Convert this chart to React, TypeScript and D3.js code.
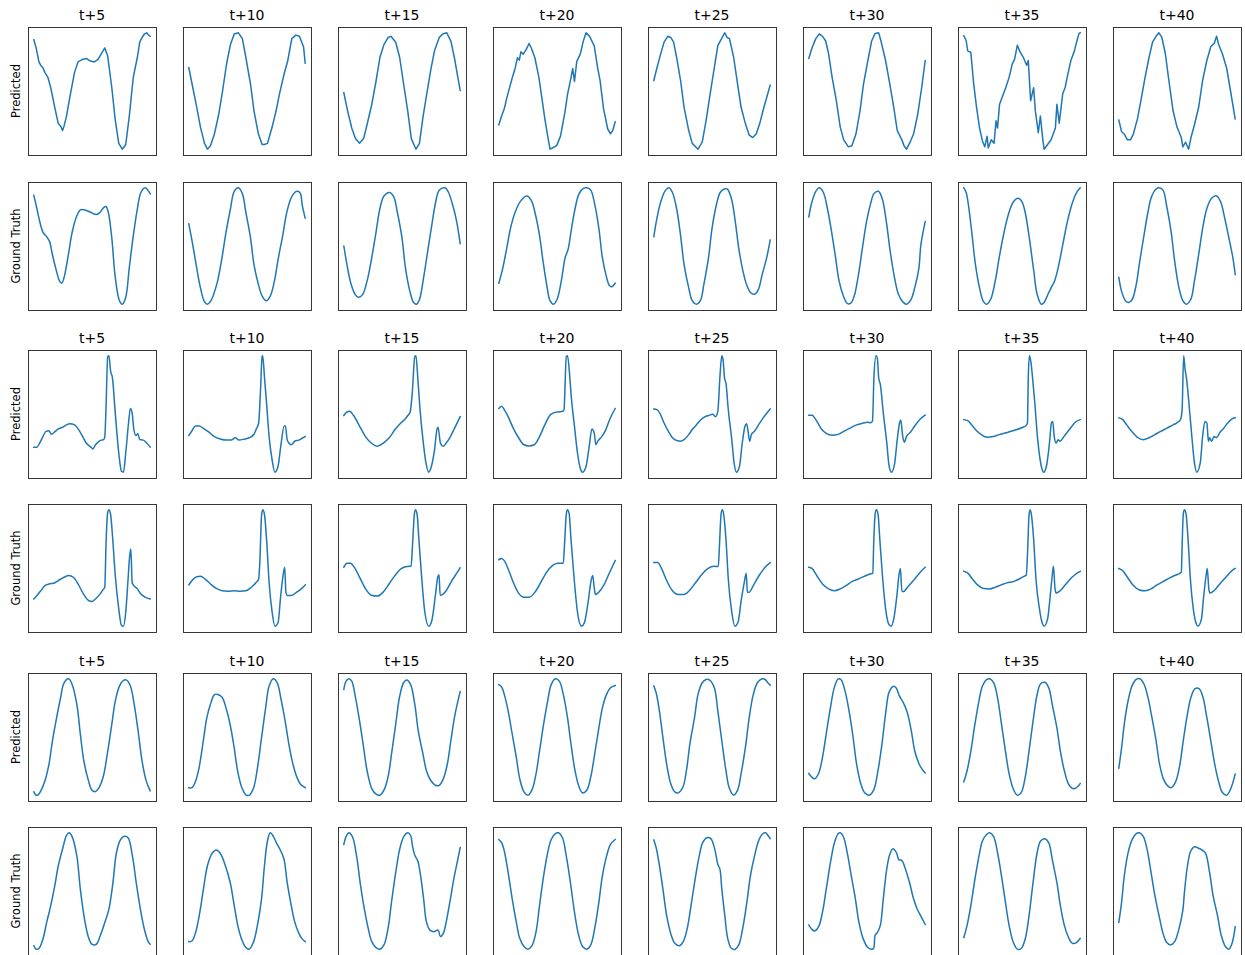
import React, { useEffect, useRef } from 'react';
import * as d3 from 'd3';

// forecast horizons (column titles) and row labels
const horizons = ['t+5', 't+10', 't+15', 't+20', 't+25', 't+30', 't+35', 't+40'];
const rowLabels = ['Predicted', 'Ground Truth'];

// every series is a flat list of (time step, value) pairs
const sinePred = [
  [0,94, 2,87, 4.4,75, 6,72, 7.8,70, 9.5,66, 12,62, 14.5,53, 18,36, 21,22, 23,20, 24.7,16, 26,20, 28,28, 31,45, 35,66, 38,75, 41.5,77, 45,78, 48,76, 52,75, 55,77, 58,82, 61,87, 63.5,80, 67,53, 70,25, 73,5, 76,0, 79,4, 82,28, 85.5,62, 89,79, 91,92, 93,96, 95,99, 97,100, 98.6,98, 100,97],
  [0,70, 3.4,53, 6.8,36, 10,19, 13.5,5, 16,0, 18.6,3, 22,13, 25.7,30, 29,50, 32.4,73, 35.8,90, 39,99, 42.6,100, 46,95, 49,79, 53,56, 56,33, 59.8,13, 63,4, 65,4, 67.6,5, 71.6,19, 75,33, 78,48, 82,65, 85,76, 88.5,95, 92,98, 95,97, 98.6,88, 100,74],
  [0,49, 3.4,33, 6.8,19, 10,10, 13.5,6, 17,10, 20,22, 24,39, 27.7,59, 31,79, 34.5,90, 38,96, 40.5,97, 44.6,92, 48,79, 51,59, 55,33, 58,10, 62,1, 65,6, 68,28, 71.6,50, 75,70, 78,85, 82,96, 85,99, 88.5,100, 92,93, 95,79, 98,62, 100,51],
  [0,22.5, 2.4,30, 4.7,36, 6.8,45, 9,53, 11.5,62, 14,70, 16,79, 17.6,77, 19,84, 21,82, 23.6,86, 26,91, 28,87, 31,79, 34.5,62, 37,45, 39.5,28, 42,13, 44,2, 46,3, 49.7,5, 53,13, 56.8,33, 59,48, 62,62, 63.5,70, 65,59, 67,76, 70,82, 72.6,93, 75,100, 78,97, 82,89, 85,70, 87,60, 90,36, 93.6,19, 96,15, 98,18, 100,25],
  [0,59, 2.7,70, 5.4,80, 8.8,92, 12,97, 14.5,96, 17,92, 19.6,79, 23,59, 26,36, 30,16, 33,5, 38,0, 41.6,6, 45,25, 48,45, 52,70, 55,89, 58.8,96, 61,100, 63,96, 65,95, 68.6,79, 72,56, 75,36, 78.7,22, 82,12, 85,10, 88,13, 91,22, 94.6,36, 100,55],
  [0,78, 2.7,87, 6,95, 9,99, 11.8,97, 14.5,93, 17,82, 20,62, 23.6,42, 27,19, 30,8, 34,2, 37,3, 40.5,13, 44,33, 47,56, 50.7,76, 54,93, 57,99.5, 60,100, 62,93, 66,76, 69.6,56, 73,36, 76,16, 80,8, 81.8,3, 84,0, 87,6, 90,13, 93.6,30, 97,53, 100,76],
  [0,97, 2,93, 3.4,84, 6,83, 8.5,56, 11,36, 13.5,19, 16,8, 18,3, 20,12, 21,2, 23.6,9, 26,6, 27.7,25, 29,19, 30.7,39, 33,45, 36,53, 39,62, 41.6,73, 43.6,77, 46,89, 48,84, 51,79, 54,72, 55.4,76, 57.4,42, 60,53, 61.5,33, 64,15, 65.8,29, 68,8, 69,1, 72,5, 75,9, 78.7,19, 80,39, 82,23, 85,48, 87,53, 89.5,65, 92,76, 95,84, 97,92, 99,99, 100,99.5],
  [0,25, 2.4,15, 4.7,13, 7.4,8, 10,8, 12.5,13, 16,26, 19,42, 22.6,62, 26,79, 29,92, 32,97, 34.5,100, 37,96, 40,82, 43,59, 46.6,33, 50,19, 53.7,10, 55,2, 57.4,6, 60,0, 62,10, 65,21, 68.6,36, 72,59, 75.6,76, 79,88, 82,91, 84,97, 85.8,90, 89,82, 92.6,70, 96,50, 100,26],
];

const sineTruth = [
  [0,93.5, 2,85, 4.4,74, 7.8,62, 11,58, 13.5,54, 16,42.5, 19.6,28, 22,20, 24,18, 26,23, 29.7,42.5, 33,62, 37,76, 40,81, 44,81, 48.6,79, 54,77, 57,79, 60,83, 62,84, 64,79, 67,57, 70,23, 73.6,3, 76,0, 79,6, 82,31, 85.5,59, 89,82, 92,96, 95.6,100, 98,98, 100,95],
  [0,69, 3.4,51, 6.8,31, 10,14, 13.5,2, 16,0, 19,3, 24,17, 28,37, 32,62, 35.8,82, 39,97, 42.6,100, 46,95, 49,79, 53,57, 56,34, 59.8,17, 63,7, 66.6,3, 70,7, 73.6,20, 77,40, 80.7,59, 84,78, 87.8,91, 91,96, 93.6,97, 96,95, 97.3,86, 100,74],
  [0,50, 2.7,34, 6,18, 10,8, 12.5,6, 16,8, 20,20, 24,40, 27.7,62, 31,82, 34.5,93, 39.5,96, 43,92, 46,79, 50,57, 53,31, 56.8,11, 60,1.4, 62.5,0, 65,4, 68.6,23, 72,45, 75.6,68, 79,88, 82,98, 87,100, 90,96, 93.6,85, 97,71, 100,52],
  [0,18, 3.4,31, 6.8,48, 10,65, 14,79, 19,89, 24,93, 28,89, 31,79, 35,59, 38,37, 41.6,14, 44,3, 47,0, 50,4, 53.7,20, 57,40, 59.5,47, 62,62, 65.5,82, 69,95, 73,99.7, 75.7,100, 79,98, 82.4,86, 86,65, 89,40, 92.6,23, 95,16, 97,15, 100,18],
  [0,58, 2.7,74, 6,88, 9.5,97, 13,100, 16,96, 19.6,82, 23,59, 26,34, 30,14, 33,3, 36.5,0, 40,3, 43,17, 47,40, 50,65, 53.7,85, 57,96, 60.5,99, 63,99, 66.6,91, 70,71, 73,48, 76.7,28, 80,16, 83,10, 86.5,8.5, 90,13, 93,25, 97,40, 100,55],
  [0,75, 2.7,88, 6,97, 9,100, 12.5,96, 16,82, 19.6,62, 23,40, 26,20, 29.7,7, 33,0.6, 35.8,0.6, 39,7, 42.6,25, 46,48, 49.6,71, 53,86, 56,95, 59.8,97, 63,91, 66.6,71, 70,45, 73.6,23, 77,8.5, 80.7,2, 84,0, 87.8,4, 91,14, 94.6,31, 96.3,51, 100,71],
  [0,100, 2,96, 4,85, 6.8,62, 10,34, 13.5,14, 17,2, 19.6,0, 23,4, 27,20, 30.4,40, 34,59, 38,76, 42.6,88, 46.6,91, 50,88, 52.7,79, 56,59, 59.8,31, 63,8.5, 66.6,0, 69,1.4, 72.3,8.5, 75,14, 78,20, 81,31, 85,51, 89,71, 93.6,88, 97,96, 100,100],
  [0,23, 2.4,11, 5.7,3, 8.4,1.4, 11.5,4, 15,17, 18,37, 21.6,59, 25,79, 28,92, 32,99, 34.5,100, 38,98, 41,85, 45,62, 48,37, 51.7,14, 55,3, 58,0, 61.8,4, 65,20, 68.6,42.5, 72,65, 75.6,82, 79.7,91, 84,93, 87.5,88, 91,74, 94.6,57, 98,40, 100,25.5],
];

const ecgPred = [
  [0,22, 2.7,22, 5,25.5, 7.8,31, 10.5,35.5, 13,36, 15,33, 18,35, 21,37.5, 24.7,39, 28,41, 31,42, 35,41, 38.5,37, 42,31, 45,25.5, 49,22, 50.7,20.5, 53,24, 56,27, 58,28, 60,28.4, 61,31, 62,54, 63.5,99.4, 64.5,100, 66,87, 67.6,81, 70,51, 73,17, 75.3,1.4, 77,0.6, 79,17, 81.4,42.6, 83,55, 84.5,51, 86,37, 87.8,32, 89.5,33.5, 91,28.4, 94,28, 97,25.5, 100,22],
  [0,32, 2.7,36, 5.7,40, 9,40, 12.5,38, 17,35, 22,31, 27,29, 32,28, 36.5,28, 40,30, 43,28, 48,29, 52,30, 56,33, 58,37.5, 60,42.6, 61.5,68, 63,99.4, 63.5,100, 65,82, 67,57, 69,31, 71.6,11, 74,0.6, 76.7,5.7, 79,22.7, 82,40, 83,40, 84.5,28.4, 86,25.5, 88,24, 91,27, 94.6,28, 98,30, 100,31],
  [0,49, 2.7,52, 5,52.6, 8.4,49, 13.5,40, 18.6,31, 23.6,25.5, 28.7,22.7, 34,25.5, 39,30, 44,37, 49,42.6, 52.7,46, 55,49, 57,52, 58.8,68, 61,99.4, 62,100, 63.5,82, 65.5,54, 68,28.4, 70.6,8.5, 73,0.6, 75.3,5.7, 78,20, 80,37, 81,39, 83,25.5, 85.5,22.7, 88,25.5, 91,30, 94.6,37, 100,48],
  [0,55, 2.4,57, 4.7,54, 8,48, 12.5,38, 17,30, 21.6,24, 26,23, 30.4,24, 35,31, 39.5,41, 44.6,50, 49.7,52, 55,52.6, 56,54, 58,99.4, 59,100, 61,82, 62,68, 65,40, 67.6,17, 70,4, 72,0.6, 75,5.7, 77.7,22.7, 80,37.5, 82,34, 83.4,24, 85,27, 88.5,31, 92,37, 95,45, 100,55],
  [0,54.5, 2.7,54, 5.4,50.6, 8.8,42.6, 13,34.7, 16,30, 19.6,27.6, 23,27, 26,28.4, 30,32.7, 33,37, 36.5,41, 40,45, 43,47.4, 47,49, 50.7,50, 53,48, 55,52.6, 56.8,82, 58.4,100, 59.5,96.6, 60.8,81, 62,76.7, 64,54, 67,28.4, 69,8.5, 71,0.6, 73.6,5.7, 76,25.5, 78.4,40, 79.7,42, 81,35.5, 82.4,27, 83.8,32.7, 86.5,35.5, 90,41, 94,47, 100,54.5],
  [0,49, 2.7,49, 6.8,44, 11,37, 15,33.5, 20,32, 25.3,32.7, 30.4,35.5, 35.5,38, 40.5,40.6, 45.6,42, 50.7,43, 53,42.6, 54.7,44, 56,82, 57.8,99.4, 59,96.6, 60,81, 61.5,75, 64,51, 67,25.5, 69,5.7, 71,0.6, 73.6,7, 76,28.4, 78,42.6, 79,45, 80.7,31, 82,26, 84,31, 87.5,34.7, 91,39.8, 95.6,45.5, 100,49],
  [0,45.5, 3.4,44.6, 6.8,41, 11,36, 15,32.7, 20,30.4, 25.3,31, 30.4,32.7, 35.5,34, 40.5,35.5, 45.6,37, 50.7,39, 53,40, 54.7,42.6, 55.4,82, 56.4,100, 57.8,93.8, 59,82, 61,59.7, 63.5,28.4, 66.6,5.7, 68.6,0.6, 71,5.7, 73.6,25.5, 75.3,42.6, 76.4,44, 77.7,31, 79.4,25.5, 81,28.4, 82.8,27, 86,31, 89.5,35.5, 93,40, 96,43.5, 100,45.5],
  [0,47, 3.4,45.5, 6.8,41, 11,35.5, 16,30.4, 21,28.4, 26,30, 31,32.7, 36,35.5, 41,38, 46.6,41, 49.7,42.6, 53,45.5, 54.4,54, 55.7,100, 57,88, 58,82, 60,62.5, 62.5,34, 65,8.5, 67,0.6, 70,8.5, 72,31, 74,44, 75.7,42.6, 77,27, 78,30, 79.7,27, 81.8,31, 83.8,30, 87,34.7, 90,38, 93.6,42.6, 97,46, 100,47],
];

const ecgTruth = [
  [0,24, 2.7,27, 6,31, 9.5,35.4, 13,36.8, 17,37.4, 21,39.7, 26,42.5, 30,44, 34,42.5, 38,36.8, 42.6,28.3, 47,22.7, 50,21.8, 53,24, 57,28.3, 59.5,32, 61,34, 62,69, 63.5,97.7, 64.5,100, 66,96, 67.6,78, 70,44, 73,15.6, 75.3,1.4, 77,0.8, 79,12.7, 81,41, 82.4,61, 83.4,66.6, 84.5,38, 85.5,36, 89,32.6, 92,28.3, 95.6,25.5, 100,24],
  [0,36, 3.4,40.5, 6.8,43, 10,43.3, 14,41, 18.6,36.8, 23.6,33, 28.7,31, 33.8,30.6, 39,31, 44,30.6, 49,31, 53.7,34, 57.8,38, 60,41, 61,55, 62.5,95, 63.5,100, 65,96, 67,72, 69,38, 71.6,12.7, 74,0.8, 76.7,4, 79,27, 81,44, 82.4,51, 83.4,30, 84.5,27, 88,27, 93,30, 96.6,32.6, 100,36],
  [0,51, 2.7,54.4, 5.7,54.4, 9,51, 13.5,42.5, 18.6,32.6, 23.6,27, 28.7,26.3, 33.8,29.7, 39,36.8, 44,44, 49,49.6, 54.4,51.6, 57.8,51.8, 59,69, 60.5,95, 61.5,100, 63,96, 64.5,75, 67,41, 69.6,12.7, 73,0.6, 75.7,5.7, 78.7,27, 80.7,42.5, 81.8,44.5, 82.8,27, 84.8,27.5, 88,31, 93,39.7, 97.6,46.7, 100,50.4],
  [0,57.5, 2.4,58.6, 4.7,56.7, 8,49.6, 12.5,38, 17,29, 21.6,25.5, 26,25.5, 31,29.7, 36,38, 41,46.7, 46,52.4, 50.7,54.4, 55.4,54.4, 56.4,69.4, 58,96.3, 59,100, 60.5,96.3, 62,75, 65,38, 67.6,12.7, 71,0.8, 73.6,4, 76.7,21, 79,38, 80.7,44, 81.8,35.4, 83,27.8, 85.8,29.7, 90,35.4, 94.6,45.3, 100,56.7],
  [0,55, 3.4,55, 6.8,49.6, 11,39.7, 16,31, 21,27.8, 25.7,27.8, 30.4,31, 36,38, 41.6,45.3, 46.6,50, 51.7,51.8, 55.4,51.6, 56.4,69.4, 57.8,96.3, 58.8,100, 60,96.3, 62,75, 64,41, 67,12.7, 69.6,0.8, 72.3,4, 75.3,24, 77.7,38, 79.4,46, 80.4,29.7, 81.8,29.7, 85.5,35.4, 90.5,44, 95.6,51, 100,55],
  [0,51, 2.7,50, 6.8,44, 11.8,36.8, 17,32.6, 22,31, 27,32.6, 32,35.4, 37,38.8, 42.6,41, 47.6,43.3, 52.7,45.3, 55,45.9, 55.7,69.4, 57,96.3, 58,100, 59.5,96.3, 61,75, 63.5,41, 66,15.6, 68.6,2.8, 70.6,0.8, 73,7, 75.7,27, 77.4,44, 78.7,50, 80,30.3, 81.4,30.3, 84.8,34, 89.9,39.7, 95,46, 100,51],
  [0,47.6, 3.4,46, 7.4,41, 11.8,36, 17,33, 22,32.6, 27,34, 32,36, 37,37.7, 42.6,38.8, 47.6,41, 51.7,43.3, 53.7,44.5, 55,69.4, 56,95, 57,100, 58,96.3, 60,75, 62,41, 65,15.6, 67.6,2.8, 69,0.8, 72,7, 74.3,27, 76,44, 77,51.8, 78.4,32.6, 79.4,29, 82.8,31, 87.8,36.8, 93,42.5, 97.3,46, 100,47.6],
  [0,50, 3.4,48, 7.4,42.5, 12.5,35.4, 17.6,31.7, 22.6,31, 27.7,32.6, 32.8,36, 38,38.8, 43,41.6, 48,44, 52.4,45.9, 53.7,46.7, 54.4,69.4, 55.4,96.3, 56.4,100, 57.8,96.3, 59.5,75, 61.5,41, 64,15.6, 66.6,2.8, 68,0.8, 71,7, 73,27, 75,44, 76,50, 77.4,32, 78.4,29, 81.8,31, 86.8,36.8, 92,42.5, 97,48, 100,50],
];

const wavePred = [
  [0,3.4, 2,0.6, 3.7,0.9, 6,4.3, 9.5,12.8, 13,27, 16,47, 19.6,66.8, 23,83.8, 26,96.6, 30,100, 33,95, 37,78, 40,52.6, 43,29.8, 47,12.8, 50,4.8, 53,3.7, 56,7, 59.8,17, 63.5,38, 67,61, 70,81, 73.6,93.8, 77,98.6, 79.7,98.9, 83,93.8, 86.5,76.7, 90,52.6, 93,29.8, 96.6,12.8, 100,4.3],
  [0,7, 2.7,7, 5.4,11.4, 8.8,24, 12,44, 15.5,66.8, 19,79.5, 22,86.6, 25,86.6, 28.7,84, 32,75, 35.5,61, 39,41, 42,21, 45.6,7, 49,0.9, 52,0.6, 55.7,7, 59,24, 62.5,49.7, 66,75, 69,93.8, 72.6,100, 76,96.6, 79,83.8, 82.8,63.9, 86,44, 89.5,27, 93,15.6, 96,10, 100,7],
  [0,91, 2,98, 4.4,100, 6.8,98, 10,84, 13.5,64, 17,41, 20,21, 24,5.7, 27.7,0.9, 31,0, 34.5,4.3, 38,15.6, 41,35.5, 44.6,61, 48,85, 51.4,96.6, 54,98.9, 57.4,95, 61,78, 64,55, 68,35.5, 71,21, 74.6,12.8, 78.7,8.5, 82,8.5, 85.5,14, 89,27, 92,47, 95.6,69.6, 100,89],
  [0,95, 2.4,93, 4.7,86.6, 8,72.4, 11.5,52.6, 15,32.7, 18,14, 21.6,2.8, 25,0, 28.4,4.3, 32,18.5, 35,38, 38.5,61, 42,81, 45,95, 48.6,100, 52,98, 55.4,86.6, 59,66.8, 62,44, 65.5,21, 69,7, 72,2, 75.6,4.3, 79,15.6, 82.4,35.5, 86,58, 89,75, 92.6,86.6, 96,92.3, 100,94.3],
  [0,93.8, 2,88, 4.4,75, 7.8,49.7, 11,27, 14.5,10, 18,2.8, 21,2, 25,7, 28,21, 31,44, 35,66.8, 38,86.6, 41.6,96.6, 45,99.4, 48,98.9, 52,92.3, 55,72.4, 58.4,47, 62,21, 65,5.7, 68.6,0, 72,4.3, 75,18.5, 78.7,41, 82,66.8, 85.5,86.6, 89,96.6, 93,100, 95.6,99.4, 98,96.6, 100,94.6],
  [0,18.5, 2.4,15.6, 5,14, 8.4,18.5, 11.8,32.7, 15,52.6, 18.6,75, 22,92.3, 25.3,99.4, 27.7,98.6, 31,89.5, 34.5,72.4, 38,49.7, 41,27, 44.6,10, 48,2, 52,0, 55.7,4.3, 59,18.5, 62.5,41, 66,69.6, 69,88, 72.6,92.9, 75,91.8, 77.7,85, 81,79.5, 84.5,71, 88,55.4, 91,38, 94.6,27, 97,22.7, 100,19],
  [0,12, 2.7,21, 6,38, 9.5,61, 13,81, 16,93.8, 19.6,99.4, 22.3,100, 25.7,96.6, 29,83.8, 32.4,61, 35.8,38, 39,18.5, 42.6,5.7, 46,0.6, 49.3,2.8, 52.7,15.6, 56,38, 59.5,63.9, 63,86.6, 66,95.7, 69.6,97, 73,92.3, 76,78, 80,58, 83,38, 86.5,21, 90,10, 93,6.5, 96,6.5, 100,10.5],
  [0,23.6, 2.4,41, 4.7,61, 8,81, 11.5,93.8, 15,99, 18,99.4, 21.6,95, 25,83.8, 28.4,66.8, 32,47, 35,27, 38.5,14, 42,8.5, 45,7, 48.6,11.4, 52,24, 55.4,47, 59,69.6, 62,83.8, 65.5,91, 69,91, 72.3,83.8, 75.6,66.8, 79,47, 82.4,27, 86,11.4, 89,2.8, 92.6,0.6, 96,5.7, 100,18.5],
];

const waveTruth = [
  [0,3.7, 2,0.8, 4.4,1.4, 7.8,9.3, 11,23.5, 14.5,37.7, 18,54.7, 21,71.7, 25,87.3, 28,97.7, 30.4,100, 33,96.6, 37,80, 40,51.8, 43.6,26.3, 47,10.8, 50,5, 53.7,5, 57,12, 61,23.5, 64.5,34.8, 68,57.5, 71,83, 74.6,94.3, 78,97, 81,95.8, 84.8,80, 88,57.5, 91.6,34.8, 95,17.8, 98.6,6.5, 100,5],
  [0,6.5, 2.7,7, 6,15, 9.5,32, 13,54.7, 16,71.7, 20,82.4, 23.6,85.3, 27,82.4, 31,73, 35.5,57.5, 39,37.7, 42,20.7, 45.6,8, 49,1.4, 52,0, 55.7,6.5, 59,20.7, 62.5,43.3, 65,71.7, 67.6,93, 70,100, 72.6,97, 76,90, 79,84.4, 81.8,77.3, 84.5,57.5, 88,37.7, 91,23.5, 94.6,13.6, 97,9.3, 100,6.5],
  [0,90, 2,97, 4.4,100, 7.4,96.6, 11,80, 14,57.5, 17.6,34.8, 21,17.8, 24,6.5, 27.7,1.4, 31,0, 34.5,3.7, 38,17.8, 41,40.5, 44.6,66, 48,85.8, 51.4,96.6, 55,100, 57.4,97.7, 59,88.7, 61,80.7, 63.5,76, 66,63, 68.6,43.3, 71,23.5, 74,16.4, 77.4,15, 81,16.4, 83,10.8, 85.5,13.6, 88,23.5, 91.6,43.3, 95,63, 98,77.3, 100,87.3],
  [0,94.3, 2.4,91.5, 4.7,84.4, 8,66, 11.5,43.3, 15,23.5, 18,9.3, 21.6,2.3, 25,0, 28.4,2.8, 32,15, 35,37.7, 38.5,63, 42,83, 45,94.3, 48.6,99.4, 51.4,100, 54.7,95.8, 58,80, 61.5,57.5, 65,32, 68.6,12, 72,2.3, 75.6,0, 79,3.7, 82.4,17.8, 86,40.5, 89,63, 92.6,80, 96,90, 100,94.3],
  [0,93.8, 2,87.3, 4.4,74.5, 7.8,51.8, 11,29, 14.5,13.6, 18,5, 22,3, 25.3,6.5, 28.7,17.8, 32,37.7, 35.5,60.3, 39,80, 42,91.5, 45.6,95.8, 49,95, 52.4,85.8, 55,73, 56.8,68.8, 58.4,51.8, 61,29, 63.5,9.3, 66.6,0.8, 70,0, 73,3.7, 76.4,17.8, 80,40.5, 83,63, 86.5,80, 90,93, 93,98.6, 96,100, 98.6,97, 100,95],
  [0,20.7, 2.4,17.3, 5,15.6, 8.4,19.3, 11.8,32, 15,51.8, 18.6,74.5, 22,91.5, 25.3,99.4, 27,100, 29.7,96.6, 33,83, 36.5,63, 40,43.3, 43,23.5, 46.6,9.3, 50.7,1.4, 54,0, 55.7,0.8, 57,12, 59,14.4, 61.5,20.7, 64,43.3, 67,69, 69.6,81.6, 72.3,86.4, 75.3,83, 77.4,76.8, 79.7,76.5, 83,69, 86.5,57.5, 90,43.3, 93,34.8, 96.6,27.8, 100,21.2],
  [0,10.8, 2.7,20.7, 6,37.7, 9.5,60.3, 13,80, 16,93, 19.6,98.6, 22.3,100, 25.7,96.6, 29,83, 32.4,63, 35.8,40.5, 39,20.7, 42.6,6.5, 46,0.8, 49.3,1.4, 52.7,9.3, 56,29, 59.5,57.5, 63,83, 66,93, 69.6,95, 73,91.5, 76,77.3, 80,57.5, 83,37.7, 86.5,20.7, 90,10.8, 93,6, 96,6, 100,9.9],
  [0,23, 2.4,40.5, 4.7,63, 8,83, 11.5,94.3, 15,99.4, 17.6,100, 21,97, 24.3,85.8, 27.7,66, 31,46, 34.5,29, 38,13.6, 41,6, 44.6,3.7, 48,6.5, 51.4,16.4, 55,33.4, 56.4,49, 59,71.7, 61.8,84.4, 65,88, 68.6,86.7, 72,85, 74.6,82.4, 78,66, 81,46, 84.8,29, 88,12, 91.6,2.3, 94.6,0, 97.3,5, 100,19.3],
];

const rows = [
  { label: rowLabels[0], series: sinePred, titled: true, kind: 'noisy' },
  { label: rowLabels[1], series: sineTruth, titled: false, kind: 'smooth' },
  { label: rowLabels[0], series: ecgPred, titled: true, kind: 'spiky' },
  { label: rowLabels[1], series: ecgTruth, titled: false, kind: 'spiky' },
  { label: rowLabels[0], series: wavePred, titled: true, kind: 'smooth' },
  { label: rowLabels[1], series: waveTruth, titled: false, kind: 'smooth' },
];

const W = 1245;
const H = 955;
const boxW = 128;
const boxH = 128;
const colLefts = d3.range(8).map(i => 28 + i * 155);
const rowTops = [27, 182, 350, 504, 673, 827];

const curveFor = (kind: string) =>
  kind === 'noisy' ? d3.curveLinear
    : kind === 'spiky' ? d3.curveMonotoneX
    : d3.curveCatmullRom.alpha(0.5);

export default function App() {
  const svgRef = useRef<SVGSVGElement>(null);

  useEffect(() => {
    if (!svgRef.current) return;
    const svg = d3.select(svgRef.current);
    svg.selectAll('*').remove();

    svg.append('rect').attr('width', W).attr('height', H).attr('fill', '#fff');

    rows.forEach((row, r) => {
      const top = rowTops[r];

      svg.append('text')
        .attr('transform', `translate(20,${top + boxH / 2}) rotate(-90)`)
        .attr('text-anchor', 'middle')
        .style('font-family', 'DejaVu Sans, sans-serif')
        .style('font-size', '11.5px')
        .style('fill', '#000')
        .text(row.label);

      row.series.forEach((flat, c) => {
        const left = colLefts[c];
        const pts: [number, number][] = [];
        for (let i = 0; i < flat.length; i += 2) pts.push([flat[i], flat[i + 1]]);

        const [x0, x1] = d3.extent(pts, d => d[0]) as [number, number];
        const [y0, y1] = d3.extent(pts, d => d[1]) as [number, number];
        const px = (x1 - x0) * 0.05;
        const py = (y1 - y0) * 0.05;

        const x = d3.scaleLinear().domain([x0 - px, x1 + px]).range([left, left + boxW]);
        const y = d3.scaleLinear().domain([y0 - py, y1 + py]).range([top + boxH, top]);

        const line = d3.line<[number, number]>()
          .x(d => x(d[0]))
          .y(d => y(d[1]))
          .curve(curveFor(row.kind));

        const g = svg.append('g');

        g.append('path')
          .datum(pts)
          .attr('d', line)
          .attr('fill', 'none')
          .attr('stroke', '#1f77b4')
          .attr('stroke-width', 1.5)
          .attr('stroke-linejoin', 'round')
          .attr('stroke-linecap', 'square');

        g.append('rect')
          .attr('x', left + 0.5)
          .attr('y', top + 0.5)
          .attr('width', boxW)
          .attr('height', boxH)
          .attr('fill', 'none')
          .attr('stroke', '#222')
          .attr('stroke-width', 0.9);

        if (row.titled) {
          g.append('text')
            .attr('x', left + boxW / 2)
            .attr('y', top - 7)
            .attr('text-anchor', 'middle')
            .style('font-family', 'DejaVu Sans, sans-serif')
            .style('font-size', '14px')
            .style('fill', '#000')
            .text(horizons[c]);
        }
      });
    });
  }, []);

  return (
    <svg
      ref={svgRef}
      width={W}
      height={H}
      style={{ position: 'absolute', left: 0, top: 0, display: 'block' }}
    />
  );
}
